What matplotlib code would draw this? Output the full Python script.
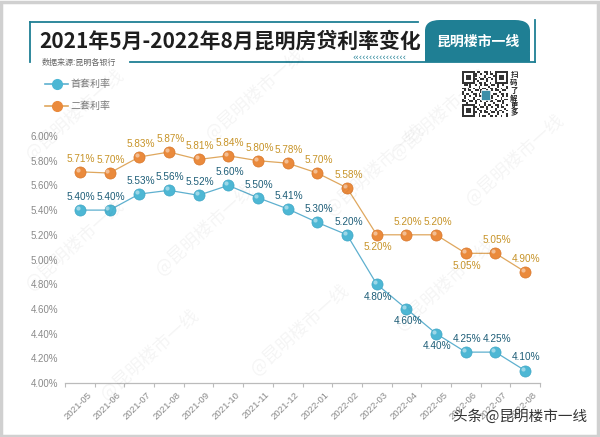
import numpy as np
import matplotlib
matplotlib.use("Agg")
import matplotlib.pyplot as plt
import matplotlib.transforms as mtrans
from matplotlib.patches import Rectangle, FancyBboxPatch

plt.rcParams['font.family'] = ['Noto Sans CJK SC', 'DejaVu Sans']

months = ['2021-05', '2021-06', '2021-07', '2021-08', '2021-09', '2021-10',
          '2021-11', '2021-12', '2022-01', '2022-02', '2022-03', '2022-04',
          '2022-05', '2022-06', '2022-07', '2022-08']
first_rate = [5.40, 5.40, 5.53, 5.56, 5.52, 5.60, 5.50, 5.41,
              5.30, 5.20, 4.80, 4.60, 4.40, 4.25, 4.25, 4.10]
second_rate = [5.71, 5.70, 5.83, 5.87, 5.81, 5.84, 5.80, 5.78,
               5.70, 5.58, 5.20, 5.20, 5.20, 5.05, 5.05, 4.90]
# label above (1) or below (-1) the point
first_pos = [1] * 10 + [-1, -1, -1] + [1, 1, 1]
second_pos = [1] * 10 + [-1, 1, 1, -1, 1, 1]
yticks = [4.0, 4.2, 4.4, 4.6, 4.8, 5.0, 5.2, 5.4, 5.6, 5.8, 6.0]

W, H = 600, 437
BLUE_M, BLUE_L, BLUE_T = '#4db7d4', '#5eb0cf', '#1e5e78'
ORG_M, ORG_L, ORG_T = '#ea8a3c', '#dfa75e', '#c79327'
TEAL = '#1f7f94'


def fx(x):
    return x / W


def fy(y):
    return 1 - y / H


fig = plt.figure(figsize=(6, 4.37), dpi=100)
fig.patch.set_facecolor('white')

# outer frame
fig.patches.append(Rectangle((0.002, 0.003), 0.995, 0.993, transform=fig.transFigure,
                             fill=False, edgecolor='#d0d0d0', linewidth=2.5))

# watermarks
for (wx, wy) in [(75, 115), (255, 95), (440, 115), (75, 245), (205, 230), (375, 170),
                 (515, 160), (150, 355), (300, 330), (445, 285)]:
    fig.text(fx(wx), fy(wy), '@昆明楼市一线', rotation=42, ha='center', va='center',
             fontsize=13, color='#000000', alpha=0.045)

ax = fig.add_axes([fx(65), fy(383), fx(540) - fx(65), (383 - 136) / H])
x = np.arange(len(months))

ax.plot(x, first_rate, color=BLUE_L, lw=0.9, zorder=2)
ax.plot(x, second_rate, color=ORG_L, lw=0.9, zorder=2)
ax.plot(x, first_rate, 'o', color=BLUE_M, ms=8, mec='#3fa7c6', mew=0.5, zorder=3, clip_on=False)
ax.plot(x, second_rate, 'o', color=ORG_M, ms=8, mec='#d9772b', mew=0.5, zorder=3, clip_on=False)
shift = mtrans.ScaledTranslation(-1.5 / 72, 1.5 / 72, fig.dpi_scale_trans)
ax.plot(x, first_rate, 'o', color='white', alpha=0.45, ms=3, mew=0, zorder=4,
        transform=ax.transData + shift, clip_on=False)
ax.plot(x, second_rate, 'o', color='white', alpha=0.45, ms=3, mew=0, zorder=4,
        transform=ax.transData + shift, clip_on=False)

for xi, v, p in zip(x, first_rate, first_pos):
    ax.annotate(f'{v:.2f}%', (xi, v), xytext=(1, 9.5 if p > 0 else -9), textcoords='offset points',
                ha='center', va='center', fontsize=7.2, color=BLUE_T, family='Liberation Sans')
for xi, v, p in zip(x, second_rate, second_pos):
    ax.annotate(f'{v:.2f}%', (xi, v), xytext=(1, 9.5 if p > 0 else -9), textcoords='offset points',
                ha='center', va='center', fontsize=7.2, color=ORG_T, family='Liberation Sans')

ax.set_xlim(-0.5, len(months) - 0.5)
ax.set_ylim(4.0, 6.0)
ax.set_yticks(yticks)
ax.set_yticklabels([f'{t:.2f}%' for t in yticks], family='Liberation Sans', fontsize=7, color='#8a8a8a')
ax.tick_params(axis='y', length=0, pad=5)
ax.set_xticks(x)
ax.set_xticklabels(months, rotation=45, ha='right', va='top', rotation_mode='anchor',
                   family='Liberation Sans', fontsize=6.8, color='#8a8a8a')
ax.tick_params(axis='x', which='major', length=0, pad=5)
ax.set_xticks(np.arange(-0.5, len(months)), minor=True)
ax.tick_params(axis='x', which='minor', length=3, color='#bbbbbb', width=0.8)
off = mtrans.ScaledTranslation(5 / 72, 0, fig.dpi_scale_trans)
for lab in ax.get_xticklabels():
    lab.set_transform(lab.get_transform() + off)
for s in ['left', 'top', 'right']:
    ax.spines[s].set_visible(False)
ax.spines['bottom'].set_color('#bbbbbb')
ax.spines['bottom'].set_linewidth(0.9)
ax.patch.set_alpha(0)

# header box
line_kw = dict(color=TEAL, lw=1.3, transform=fig.transFigure)
fig.add_artist(plt.Line2D([fx(30), fx(30)], [fy(22), fy(62)], **line_kw))
fig.add_artist(plt.Line2D([fx(30), fx(418)], [fy(22), fy(22)], **line_kw))
fig.add_artist(plt.Line2D([fx(130), fx(535)], [fy(62), fy(62)], **line_kw))
fig.add_artist(plt.Line2D([fx(535), fx(535)], [fy(20), fy(62)], **line_kw))
fig.patches.append(FancyBboxPatch((fx(425), fy(62)), fx(530) - fx(425), (62 - 20) / H,
                                  boxstyle='round,pad=0,rounding_size=0.025',
                                  transform=fig.transFigure, facecolor=TEAL, edgecolor='none'))
fig.patches.append(Rectangle((fx(425), fy(62)), fx(530) - fx(425), 10 / H,
                             transform=fig.transFigure, facecolor=TEAL, edgecolor='none'))
fig.text(fx(478), fy(42), '昆明楼市一线', ha='center', va='center', fontsize=10,
         color='white', fontweight='bold', style='italic')
fig.text(fx(352), fy(58), '‹' * 16, ha='left', va='center', fontsize=6, color=TEAL,
         family='DejaVu Sans')
fig.text(fx(39), fy(41), '2021年5月-2022年8月昆明房贷利率变化', ha='left', va='center',
         fontsize=15, fontweight='bold', color='#1e1e1e')
fig.text(fx(42), fy(62), '数据来源:昆明各银行', ha='left', va='center', fontsize=5.8,
         color='#666666', bbox=dict(facecolor='white', edgecolor='none', pad=1))

# legend
for ly, lc, mc, name in [(84, BLUE_L, BLUE_M, '首套利率'), (106, ORG_L, ORG_M, '二套利率')]:
    fig.add_artist(plt.Line2D([fx(45), fx(68)], [fy(ly), fy(ly)], color=lc, lw=1.2,
                              transform=fig.transFigure))
    fig.add_artist(plt.Line2D([fx(57)], [fy(ly)], marker='o', ms=7, color=mc,
                              transform=fig.transFigure))
    fig.text(fx(70), fy(ly), name, ha='left', va='center', fontsize=7.2, color='#777777')

# QR code placeholder
qr = fig.add_axes([fx(461), fy(117), (508 - 461) / W, (117 - 71) / H])
qr_cells = np.array([[(i * 7 + j * 13 + i * j) % 3 == 0 or (i + 2 * j) % 5 == 1
                      for j in range(25)] for i in range(25)], float)
for (r0, c0) in [(0, 0), (0, 18), (18, 0)]:
    qr_cells[r0:r0 + 7, c0:c0 + 7] = 1
    qr_cells[r0 + 1:r0 + 6, c0 + 1:c0 + 6] = 0
    qr_cells[r0 + 2:r0 + 5, c0 + 2:c0 + 5] = 1
qr.imshow(qr_cells, cmap='Greys', vmin=0, vmax=1.2, interpolation='nearest')
qr.add_patch(Rectangle((10, 10), 5, 5, facecolor='#3d8fa8', edgecolor='white', lw=0.5))
qr.axis('off')
for k, ch in enumerate('扫码了解更多'):
    fig.text(fx(514), fy(75 + k * 7.6), ch, ha='center', va='center', fontsize=5.3,
             color='#222222', fontweight='bold')

# footer
fig.text(fx(587), fy(417), '头条 @昆明楼市一线', ha='right', va='center', fontsize=10.5,
         color='#333333')

fig.savefig('out.png', dpi=100, facecolor='white')
